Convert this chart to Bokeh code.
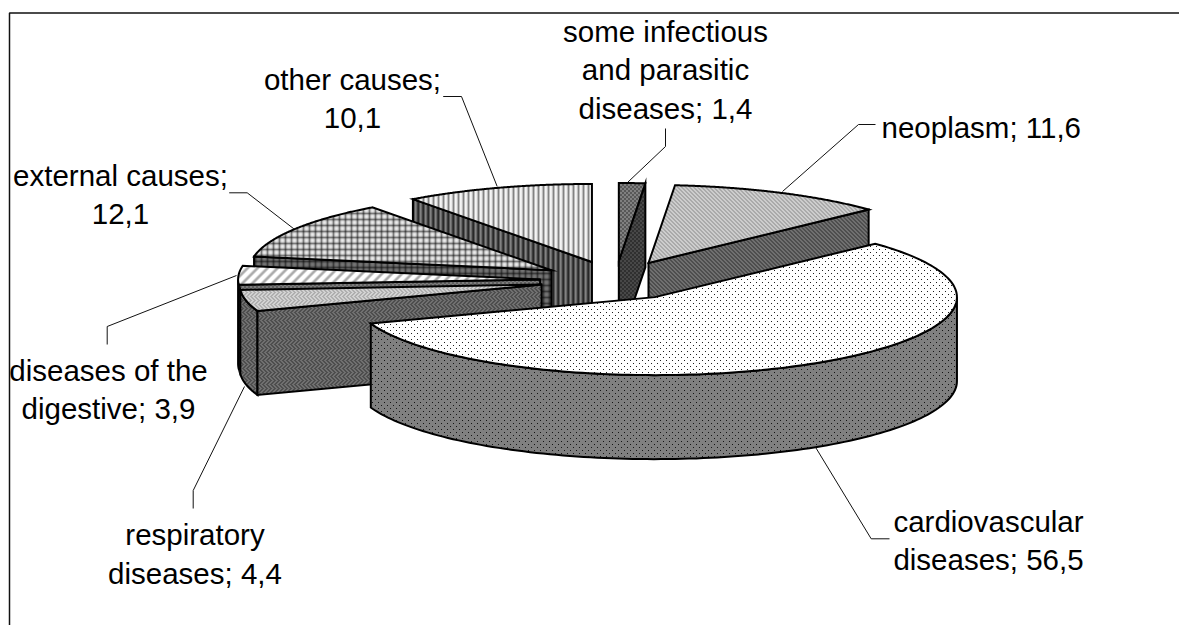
import base64, struct, zlib
import numpy as np
from bokeh.embed import file_html
from bokeh.resources import INLINE
from bokeh.models import ColumnDataSource, Range1d, ImageURLTexture
from bokeh.plotting import figure
from bokeh.core.properties import value

categories = ["some infectious and parasitic diseases", "neoplasm", "cardiovascular diseases",
              "respiratory diseases", "diseases of the digestive", "external causes", "other causes"]
values = [1.4, 11.6, 56.5, 4.4, 3.9, 12.1, 10.1]

label_lines = [
    ["some infectious", "and parasitic", "diseases; 1,4"],
    ["neoplasm; 11,6"],
    ["cardiovascular", "diseases; 56,5"],
    ["respiratory", "diseases; 4,4"],
    ["diseases of the", "digestive; 3,9"],
    ["external causes;", "12,1"],
    ["other causes;", "10,1"],
]

# layout (page pixels)
CX, CY, RX, RY, DEPTH, EXPLODE = 615.0, 280.0, 302.0, 78.0, 84.0, 0.25
TEXT_SHIFT = -9
LABEL_POS = [(665, 40, 38.4, "center"), (881, 136, 0, "left"), (988, 530, 37.8, "center"),
             (194.5, 543, 38.6, "center"), (108, 379.3, 37.5, "center"), (120, 184, 38, "center"),
             (352, 88, 38, "center")]
LEADERS = [
    [(665, 128), (665, 146), (627, 182)],
    [(875, 124), (858, 124), (782, 191)],
    [(889, 538.3), (870.7, 538.3), (815, 446.7)],
    [(192.7, 508), (192.7, 490), (244, 386)],
    [(106.7, 344), (106.7, 326), (236, 275)],
    [(228.7, 192.3), (246.7, 192.3), (293.3, 228.3)],
    [(442.7, 96), (461, 96), (496.7, 186)],
]


def png_url(rows):
    rows = np.asarray(rows, dtype=np.uint8)
    h, w = rows.shape
    raw = b"".join(b"\x00" + rows[r].tobytes() for r in range(h))

    def chunk(tag, data):
        return struct.pack(">I", len(data)) + tag + data + struct.pack(">I", zlib.crc32(tag + data))
    png = (b"\x89PNG\r\n\x1a\n" + chunk(b"IHDR", struct.pack(">IIBBBBB", w, h, 8, 0, 0, 0, 0))
           + chunk(b"IDAT", zlib.compress(raw)) + chunk(b"IEND", b""))
    return "data:image/png;base64," + base64.b64encode(png).decode()


def tile(n, m, f):
    return [[int(f(x, y)) for x in range(n)] for y in range(m)]


def dots(bg, fg):
    return tile(6, 6, lambda x, y: fg if (x, y) in ((0, 0), (3, 3)) else bg)


def diag(a, b):
    return tile(4, 4, lambda x, y: a if (x - y) % 4 < 2 else b)


def herring(a, b):
    return tile(8, 8, lambda x, y: a if (x + abs(y % 8 - 4)) % 4 < 2 else b)


def blobs(c):
    return tile(len(c), len(c), lambda x, y: c[(x + y) % len(c)])


def stripes(c):
    return tile(len(c), 1, lambda x, y: c[x])


def plaid(c, k=1.0):
    return tile(len(c), len(c), lambda x, y: k * c[x] * c[y] / 255)


def check(a, b):
    return tile(4, 4, lambda x, y: a if (x // 2 + y // 2) % 2 == 0 else b)


BAND = [245, 235, 190, 130, 190, 235]
TILES = {
    "inf_top": check(128, 88), "inf_side": check(72, 48),
    "neo_top": diag(205, 170), "neo_side": diag(112, 78),
    "car_top": dots(255, 30), "car_side": dots(128, 20),
    "res_top": herring(210, 175), "res_side": herring(112, 78),
    "dig_top": blobs([255, 255, 240, 205, 175, 170, 190, 230, 255, 255]), "dig_side": check(125, 95),
    "ext_top": plaid(BAND), "ext_side": plaid(BAND, 0.5),
    "oth_top": stripes([245, 235, 190, 130, 190]), "oth_side": stripes([130, 105, 60, 40, 85]),
}
STYLES = [("inf_top", "inf_side"), ("neo_top", "neo_side"), ("car_top", "car_side"), ("res_top", "res_side"),
          ("dig_top", "dig_side"), ("ext_top", "ext_side"), ("oth_top", "oth_side")]
PAINT_ORDER = [6, 0, 1, 5, 4, 3, 2]

frac = np.cumsum([0] + values) / sum(values)
ang = np.radians(frac * 360)


def pt(ax, ay, th):
    return ax + RX * np.sin(th), ay - RY * np.cos(th)


xs, ys, hatches = [], [], []


def add(px, py, st):
    xs.append(list(px)); ys.append(list(py)); hatches.append(st)


for i in PAINT_ORDER:
    t1, t2 = ang[i], ang[i + 1]
    mid = (t1 + t2) / 2
    ax, ay = CX + EXPLODE * RX * np.sin(mid), CY - EXPLODE * RY * np.cos(mid)
    top_st, side_st = STYLES[i]
    # outer rim where it faces the viewer
    a, b = max(t1, np.pi / 2), min(t2, 3 * np.pi / 2)
    if b > a:
        th = np.linspace(a, b, 120)
        rx, ry = pt(ax, ay, th)
        add(np.r_[rx, rx[::-1]], np.r_[ry, ry[::-1] + DEPTH], side_st)
    # cut faces turned towards the viewer
    if np.sin(t1) < -1e-6:
        ex, ey = pt(ax, ay, t1)
        add([ax, ex, ex, ax], [ay, ey, ey + DEPTH, ay + DEPTH], side_st)
    if np.sin(t2) > 1e-6:
        ex, ey = pt(ax, ay, t2)
        add([ax, ex, ex, ax], [ay, ey, ey + DEPTH, ay + DEPTH], side_st)
    # top face
    th = np.linspace(t1, t2, 160)
    rx, ry = pt(ax, ay, th)
    add(np.r_[ax, rx], np.r_[ay, ry], top_st)

W, H = 1179, 625
p = figure(width=W, height=H, output_backend="svg", toolbar_location=None,
           x_range=Range1d(0, W), y_range=Range1d(H, 0),
           min_border=0, outline_line_color=None, background_fill_color="white")
p.axis.visible = False
p.grid.visible = False

# chart frame
p.line([9, 9, W], [H, 12.5, 12.5], line_color="#111111", line_width=1.5)

src = ColumnDataSource(dict(xs=xs, ys=ys, hatch=hatches))
p.patches("xs", "ys", source=src, fill_color="white", hatch_pattern="hatch",
          hatch_extra={k: ImageURLTexture(url=png_url(v)) for k, v in TILES.items()},
          line_color="black", line_width=2, line_join="miter")

for pts in LEADERS:
    p.line([q[0] for q in pts], [q[1] for q in pts], line_color="#111111", line_width=1)

for lines, (lx, ly, gap, align) in zip(label_lines, LABEL_POS):
    for k, t in enumerate(lines):
        p.text([lx], [ly + TEXT_SHIFT + k * gap], text=[t], text_align=align, text_baseline="alphabetic",
               text_font=value("Liberation Sans"), text_font_size="29.5px", text_color="black")

open("out.html", "w").write(file_html(p, INLINE))
